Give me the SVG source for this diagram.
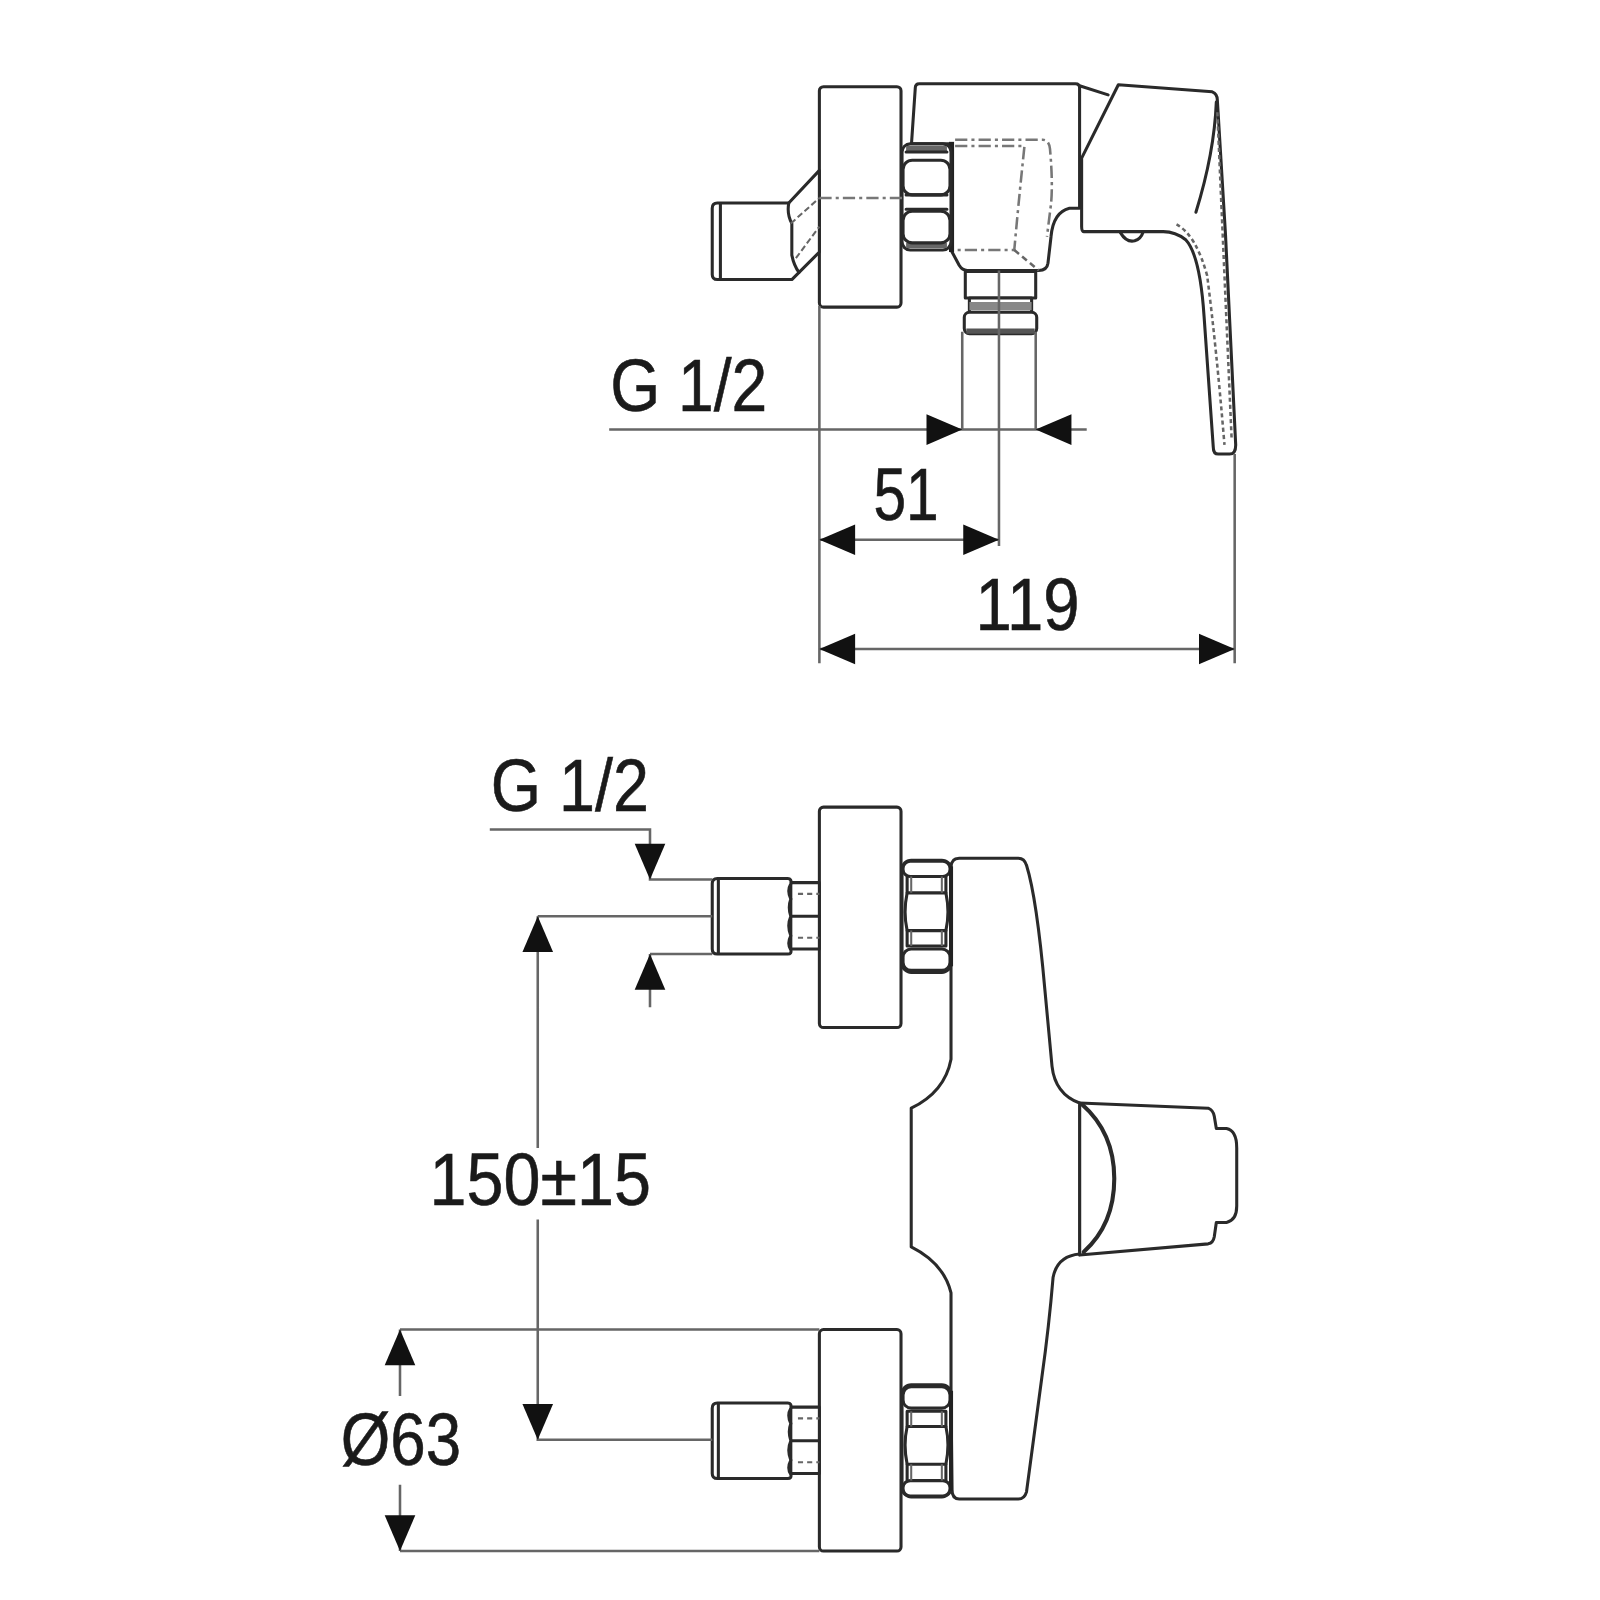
<svg xmlns="http://www.w3.org/2000/svg" width="1600" height="1600" viewBox="0 0 1600 1600">
<style>
.o{fill:#fff;stroke:#2a2a2a;stroke-width:3;stroke-linejoin:round;stroke-linecap:round}
.n{fill:none;stroke:#2a2a2a;stroke-width:3;stroke-linejoin:round;stroke-linecap:round}
.t{fill:none;stroke:#666;stroke-width:2}
.h{fill:none;stroke:#777;stroke-width:2.5;stroke-dasharray:12 4 3 4}
.d{fill:none;stroke:#666;stroke-width:2.5}
.a{fill:#111}
text{font-family:"Liberation Sans",Arial,sans-serif;font-size:73px;fill:#1a1a1a;stroke:#1a1a1a;stroke-width:.6}
</style>
<defs>
<g id="nut">
<rect class="o" x="884" y="0" width="48" height="110" rx="9"/>
<rect class="o" x="885" y="2" width="46" height="21" rx="8"/>
<rect class="o" x="885" y="94" width="46" height="15" rx="7"/>
<path class="o" d="M889 41H927Q931 59 927 78H889Q885 59 889 41Z"/>
<path class="n" d="M889 26H927M889 78V94M927 78V94M889 26V41M927 26V41"/>
<path class="t" d="M893 26V41M923 26V41M893 78V94M923 78V94"/>
<path d="M930 6H934V104H930Z" fill="#222"/>
</g>
<g id="stub">
<path class="o" d="M775 4H803V69H775Z"/>
<path class="n" d="M775 37H803"/>
<path class="t" d="M782 15H803M782 58H803" stroke-dasharray="5 4"/>
<path class="o" d="M703 0H772Q776 0 775 5Q771 12 775 20Q772 28 775 37Q771 46 775 56Q771 64 775 70Q776 74 772 74H703Q698 74 698 69V5Q698 0 703 0Z"/>
<path class="n" d="M704 1V73"/>
</g>
<path id="tip" class="a" d="M0 0L-35 -15V15Z"/>
</defs>
<g id="drawing" transform="scale(1.0204)">

<g id="side-view">
<g id="side-body">
<path class="o" d="M893 145L897 86Q897 82 901 82H1054Q1058 82 1058 86V204H1048Q1032 208 1030 232L1027 258Q1026 265 1018 265H948Q943 265 940 260L932 245V141H893Z"/>
<path class="n" d="M1058 84L1086 93"/>
<path d="M930 139H935V247H930Z" fill="#222"/>
<path class="h" d="M936 137H1022Q1028 137 1029 146Q1032 180 1030 200L1026 232"/>
<path class="h" d="M936 143H1004Q998 200 994 245H938"/>
<path class="d" d="M994 245L1018 265" stroke-dasharray="6 4"/>
</g>
<g id="side-lever">
<path class="o" d="M1060 155L1096 83L1188 90Q1193 92 1193 98L1201 230L1211 436Q1211 445 1205 445H1194Q1189 445 1189 438L1180 310Q1176 250 1162 235Q1152 227 1140 227H1062Q1060 227 1060 222Z"/>
<path class="n" d="M1192 100Q1190 150 1172 208"/>
<path class="d" d="M1153 220Q1172 230 1183 270Q1192 340 1200 436M1193 110L1207 430" stroke-dasharray="4 3"/>
<path class="n" d="M1098 228Q1104 238 1112 236Q1118 234 1120 228"/>
</g>
<g id="side-flange"><rect class="o" x="803" y="85" width="80" height="216" rx="4"/></g>
<g id="side-stub">
<path class="o" d="M803 167L773 199H703Q698 199 698 204V269Q698 274 703 274H776L803 247Z"/>
<path class="n" d="M706 200V273M773 199Q771 210 776 219V250Q778 260 783 267"/>
<path class="t" d="M775 219L803 194M780 253L803 222" stroke-dasharray="6 3"/>
</g>
<g id="side-nut">
<rect class="o" x="884" y="141" width="48" height="104" rx="8"/>
<path d="M888 143H928V149H888ZM888 238H928V243H888Z" fill="#666"/>
<rect class="o" x="885" y="157" width="46" height="34" rx="9"/>
<rect class="o" x="885" y="207" width="46" height="31" rx="9"/>
<path class="n" d="M888 149H928M888 191H928M888 205H928"/>
</g>
<path class="h" d="M803 194H884"/>
<g id="side-outlet">
<path class="o" d="M946 266H1015V292H946Z"/>
<path class="o" d="M950 292H1011V307H950Z"/>
<path d="M950 296H1011V304H950Z" fill="#888"/>
<rect class="o" x="945" y="306" width="71" height="21" rx="5"/>
<path d="M947 322H1014V327H947Z" fill="#555"/>
</g>
</g>

<g id="front-view">
<g id="front-knob">
<path class="o" d="M1058 1081L1184 1086Q1189 1088 1190 1094L1192 1106H1202Q1212 1108 1212 1125V1182Q1212 1196 1202 1198H1192L1190 1212Q1189 1218 1184 1219L1058 1230Z"/>
<path class="n" style="stroke-width:4" d="M1060 1082Q1092 1110 1092 1155Q1092 1200 1062 1227"/>
</g>
<g id="front-body">
<path class="o" d="M932 850Q932 841 940 841H998Q1004 841 1006 848Q1016 880 1024 970L1031 1045Q1034 1072 1058 1081V1229Q1036 1231 1032 1252Q1028 1300 1021 1350L1006 1462Q1004 1469 998 1469H940Q933 1469 933 1460L932 1370V1267Q925 1238 893 1222V1086Q926 1070 932 1038Z"/>
</g>
<g id="front-flange-top"><rect class="o" x="803" y="791" width="80" height="216" rx="4"/></g>
<g id="front-flange-bottom"><rect class="o" x="803" y="1303" width="80" height="217" rx="4"/></g>
<use href="#nut" transform="translate(0 953) scale(1 -1)"/>
<use href="#nut" y="1357"/>
<use href="#stub" y="861"/>
<use href="#stub" y="1375"/>
</g>

<g id="connectors">
<path class="d" d="M597 421H1065M943 325V421M1015 325V421M979 265V535M803 300V650M1210 445V650M803 529H979M803 636H1210"/>
<path class="d" d="M480 813H637V862H698M637 935H698M637 935V987M527 898H698M527 898V1125M527 1195V1411H698M392 1303H803M392 1520H803M392 1303V1368M392 1455V1520"/>
<use href="#tip" transform="translate(943 421)"/>
<use href="#tip" transform="translate(1015 421) rotate(180)"/>
<use href="#tip" transform="translate(803 529) rotate(180)"/>
<use href="#tip" transform="translate(979 529)"/>
<use href="#tip" transform="translate(803 636) rotate(180)"/>
<use href="#tip" transform="translate(1210 636)"/>
<use href="#tip" transform="translate(637 862) rotate(90)"/>
<use href="#tip" transform="translate(637 935) rotate(-90)"/>
<use href="#tip" transform="translate(527 898) rotate(-90)"/>
<use href="#tip" transform="translate(527 1411) rotate(90)"/>
<use href="#tip" transform="translate(392 1303) rotate(-90)"/>
<use href="#tip" transform="translate(392 1520) rotate(90)"/>
</g>

<g id="labels">
<text x="598" y="403" textLength="154" lengthAdjust="spacingAndGlyphs">G 1/2</text>
<text x="856" y="510" textLength="64" lengthAdjust="spacingAndGlyphs">51</text>
<text x="956" y="617" textLength="102" lengthAdjust="spacingAndGlyphs">119</text>
<text x="481" y="795" textLength="155" lengthAdjust="spacingAndGlyphs">G 1/2</text>
<text x="421" y="1181" textLength="217" lengthAdjust="spacingAndGlyphs">150±15</text>
<text x="334" y="1436" textLength="118" lengthAdjust="spacingAndGlyphs">Ø63</text>
</g>
</g>
</svg>
